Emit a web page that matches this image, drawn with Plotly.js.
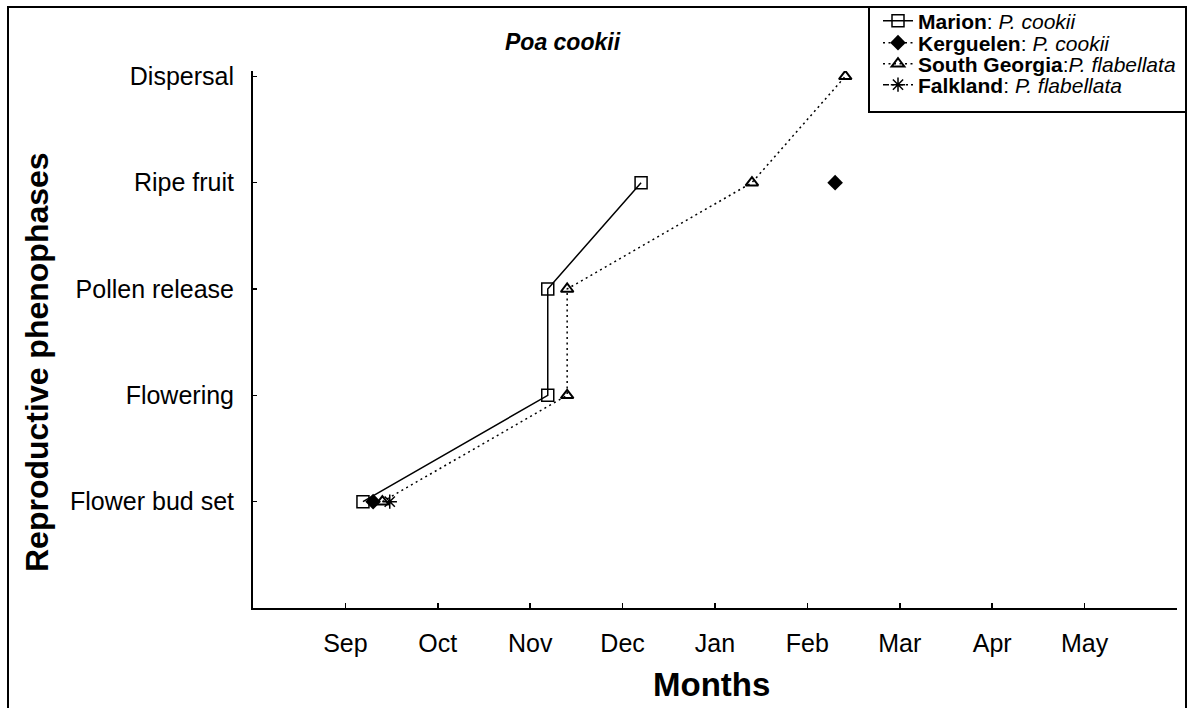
<!DOCTYPE html>
<html>
<head>
<meta charset="utf-8">
<script src="https://cdn.plot.ly/plotly-3.0.1.min.js"></script>
<style>html,body{margin:0;padding:0;background:#fff;overflow:hidden;}#chart{width:1188px;height:708px;}</style>
</head>
<body>
<div id="chart"></div>
<script>
// Phases (y levels 1..5)
const phases = ["Flower bud set", "Flowering", "Pollen release", "Ripe fruit", "Dispersal"];
const phaseLevels = [1, 2, 3, 4, 5];
// Month tick labels (Sep = 1 ... May = 9)
const monthLabels = ["Sep", "Oct", "Nov", "Dec", "Jan", "Feb", "Mar", "Apr", "May"];
const monthVals = [1, 2, 3, 4, 5, 6, 7, 8, 9];
// Timing (months since start of Aug) of each phase per site; null = not recorded
const marion       = [1.19, 3.19, 3.19, 4.20, null];
const kerguelen    = [1.30, null, null, 6.30, null];
const southGeorgia = [1.40, 3.40, 3.40, 5.40, 6.41];
const falkland     = [1.48, null, null, null, null];
// Legend labels
const seriesNames = [
  "<b>Marion</b>: <i>P. cookii</i>",
  "<b>Kerguelen</b>: <i>P. cookii</i>",
  "<b>South Georgia</b>:<i>P. flabellata</i>",
  "<b>Falkland</b>: <i>P. flabellata</i>"
];

const font = "Liberation Sans, Arial, sans-serif";
const DOT = "2px,3.5px";

const traces = [
  {x: marion, y: phaseLevels, name: seriesNames[0], legend: "legend", mode: "lines+markers",
   line: {color: "#000", width: 1.5, dash: "solid"},
   marker: {symbol: "square-open", size: 12, color: "#000", line: {width: 1.5, color: "#000"}}},
  {x: kerguelen, y: phaseLevels, name: seriesNames[1], legend: "legend2", mode: "lines+markers",
   line: {color: "#000", width: 1.5, dash: DOT},
   marker: {symbol: "diamond", size: 12, color: "#000"}},
  {x: southGeorgia, y: phaseLevels, name: seriesNames[2], legend: "legend3", mode: "lines+markers",
   line: {color: "#000", width: 1.5, dash: DOT},
   marker: {symbol: "triangle-up-open", size: 11, color: "#000", line: {width: 2, color: "#000"}}},
  {x: falkland, y: phaseLevels, name: seriesNames[3], legend: "legend4", mode: "lines+markers",
   line: {color: "#000", width: 1.5, dash: "6px,3px,2px,3px"},
   marker: {symbol: "asterisk-open", size: 12, color: "#000", line: {width: 1.5, color: "#000"}}}
];

const L = 253, R = 1177, T = 71, B = 608;
const W = R - L, H = B - T;
const px = v => (v - L) / W;
const py = v => (B - v) / H;

function leg(rowY) {
  return {
    x: px(878), y: py(rowY), xanchor: "left", yanchor: "middle",
    borderwidth: 0, bgcolor: "rgba(0,0,0,0)",
    font: {family: font, size: 21, color: "#000"},
    tracegroupgap: 0, itemwidth: 30
  };
}

const layout = {
  width: 1188, height: 708,
  margin: {l: L, r: 1188 - R, t: T, b: 708 - B, pad: 0, autoexpand: false},
  paper_bgcolor: "#fff", plot_bgcolor: "#fff",
  font: {family: font, color: "#000", size: 18},
  showlegend: true,
  legend: leg(21), legend2: leg(43), legend3: leg(64), legend4: leg(85),
  xaxis: {
    range: [0, 10], tickvals: monthVals, ticktext: monthLabels,
    showgrid: false, zeroline: false, showline: true, linecolor: "#000", linewidth: 2,
    ticks: "inside", ticklen: 5, tickwidth: 1.5, tickcolor: "#000",
    tickfont: {family: font, size: 25, color: "#000"}, ticklabelstandoff: 12,
    fixedrange: true
  },
  yaxis: {
    range: [0, 5.05], tickvals: phaseLevels, ticktext: phases,
    showgrid: false, zeroline: false, showline: true, linecolor: "#000", linewidth: 2,
    ticks: "inside", ticklen: 4, tickwidth: 1.5, tickcolor: "#000",
    tickfont: {family: font, size: 25, color: "#000"}, ticklabelstandoff: 12,
    fixedrange: true
  },
  annotations: [
    {text: "<b><i>Poa cookii</i></b>", xref: "paper", yref: "paper", x: px(563), y: py(42),
     xanchor: "center", yanchor: "middle", showarrow: false, font: {family: font, size: 23, color: "#000"}},
    {text: "<b>Months</b>", xref: "paper", yref: "paper", x: px(711), y: py(684),
     xanchor: "center", yanchor: "middle", showarrow: false, font: {family: font, size: 33, color: "#000"}},
    {text: "<b>Reproductive phenophases</b>", xref: "paper", yref: "paper", x: px(37), y: py(362),
     xanchor: "center", yanchor: "middle", showarrow: false, textangle: -90, font: {family: font, size: 32, color: "#000"}}
  ],
  shapes: [
    {type: "path", xref: "paper", yref: "paper", layer: "below",
     path: `M ${px(8)} ${py(720)} L ${px(8)} ${py(7)} L ${px(1186)} ${py(7)} L ${px(1186)} ${py(720)}`,
     line: {color: "#000", width: 2}},
    {type: "rect", xref: "paper", yref: "paper", layer: "below",
     x0: px(869), x1: px(1186), y0: py(112), y1: py(7),
     line: {color: "#000", width: 2}, fillcolor: "#fff"}
  ]
};

Plotly.newPlot("chart", traces, layout, {displayModeBar: false, staticPlot: true});
</script>
</body>
</html>
